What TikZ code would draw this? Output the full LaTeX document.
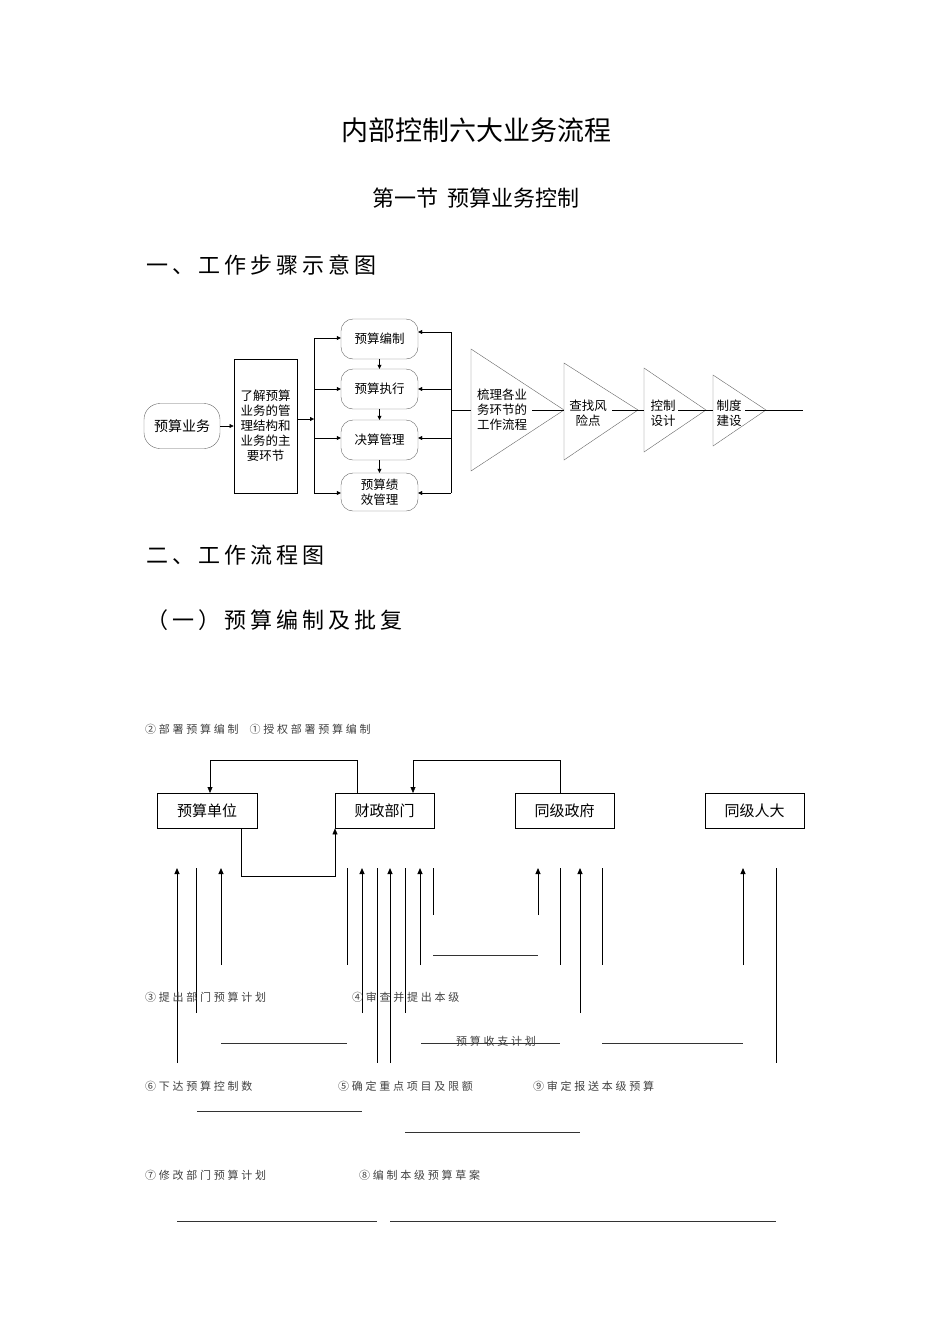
\documentclass[tikz,border=0pt]{standalone}
\usepackage{fontspec}
\setmainfont{Noto Sans CJK SC}
\newfontfamily\spc[LetterSpace=18]{Noto Sans CJK SC}
\newfontfamily\spcs[LetterSpace=25]{Noto Sans CJK SC}
\usetikzlibrary{arrows.meta,shapes.geometric}
\begin{document}
\begin{tikzpicture}[x=1pt,y=-1pt,
  ar/.style={-{Triangle[length=6pt,width=5pt]}},
  sar/.style={-{Triangle[length=4pt,width=4pt]}},
  rbox/.style={draw=black!60,rounded corners=12pt,align=center,font=\fontsize{12.5}{15}\selectfont,inner sep=1pt},
  tri/.style={draw=black!60,fill=white},
  lab/.style={font=\spcs\fontsize{11}{13}\selectfont,text=black!75,anchor=west,inner sep=0},
  bx/.style={draw,font=\fontsize{15}{17}\selectfont,inner sep=0},
  vl/.style={line width=0.9pt},
  hl/.style={line width=1pt,black!80},
  hd/.style={font=\spc\fontsize{22}{26}\selectfont,anchor=west}]
\useasboundingbox (0,0) rectangle (950,1344);
\node[font=\fontsize{27}{30}\selectfont] (t1) at (476,130) {内部控制六大业务流程};
\node[font=\fontsize{22}{26}\selectfont] (t2) at (476,198) {第一节\hspace{0.4em}预算业务控制};
\node[hd] (t3) at (143,265) {一、工作步骤示意图};
\node[hd] (t4) at (143,555) {二、工作流程图};
\node[hd] (t5) at (143,620) {（一）预算编制及批复};
% ---- step diagram
\node[rbox,minimum width=76pt,minimum height=45pt,font=\fontsize{14}{16}\selectfont,rounded corners=16pt] (ys) at (182,426) {预算业务};
\node[draw,line width=0.9pt,minimum width=63pt,minimum height=134pt,align=center,font=\fontsize{12.5}{15}\selectfont,inner sep=0pt] (lj) at (265.5,426) {了解预算\\业务的管\\理结构和\\业务的主\\要环节};
\node[rbox,minimum width=77pt,minimum height=40pt] (b1) at (379.5,339) {预算编制};
\node[rbox,minimum width=77pt,minimum height=40pt] (b2) at (379.5,389) {预算执行};
\node[rbox,minimum width=77pt,minimum height=40pt] (b3) at (379.5,440) {决算管理};
\node[rbox,minimum width=77pt,minimum height=38pt,font=\fontsize{12.5}{14.5}\selectfont] (b4) at (379.5,492) {预算绩\\效管理};
\draw[sar] (ys.east) -- (lj.west|-ys.east);
\coordinate (bl) at (314,419);
\draw[sar] (lj.east|-bl) -- (bl);
\draw (314,338) -- (314,493);
\foreach \b/\y in {b1/338,b2/389,b3/438,b4/493} \draw[sar] (314,\y) -- (\b.west|-0,\y);
\draw (451,332) -- (451,493);
\foreach \b/\y in {b1/332,b2/389,b3/438,b4/493} \draw[sar] (451,\y) -- (\b.east|-0,\y);
\draw[sar] (b1.south) -- (b2.north);
\draw[sar] (b2.south) -- (b3.north);
\draw[sar] (b3.south) -- (b4.north);
\draw (451,410) -- (471,410);
\draw[tri] (471,349) -- (564,410) -- (471,471) -- cycle;
\draw[tri] (564,363) -- (638,410) -- (564,460) -- cycle;
\draw[tri] (644,368) -- (706,410) -- (644,452) -- cycle;
\draw[tri] (713,375) -- (766,410) -- (713,446) -- cycle;
\draw (532,410) -- (564,410) (612,410)--(644,410) (678,410)--(713,410) (745,410)--(803,410);
\node[align=center,font=\fontsize{12.5}{15}\selectfont,inner sep=0] (s1) at (502,410) {梳理各业\\务环节的\\工作流程};
\node[align=center,font=\fontsize{12.5}{15}\selectfont,inner sep=0] (s2) at (588,413) {查找风\\险点};
\node[align=center,font=\fontsize{12.5}{15}\selectfont,inner sep=0] (s3) at (663,413) {控制\\设计};
\node[align=center,font=\fontsize{12.5}{15}\selectfont,inner sep=0] (s4) at (729,413) {制度\\建设};
% ---- flow chart
\node[lab] (l12) at (145,729) {②部署预算编制\hspace{1em}①授权部署预算编制};
\node[bx,minimum width=100pt,minimum height=35pt,anchor=north west] (ydw) at (157,793) {预算单位};
\node[bx,minimum width=99pt,minimum height=35pt,anchor=north west] (czb) at (335,793) {财政部门};
\node[bx,minimum width=99pt,minimum height=35pt,anchor=north west] (tzf) at (515,793) {同级政府};
\node[bx,minimum width=99pt,minimum height=35pt,anchor=north west] (trd) at (705,793) {同级人大};
\coordinate (c1) at (357,760); \coordinate (c2) at (210,760);
\draw[ar] (czb.north-|c1) -- (c1) -- (c2) -- (ydw.north-|c2);
\coordinate (c3) at (560,760); \coordinate (c4) at (413,760);
\draw[ar] (tzf.north-|c3) -- (c3) -- (c4) -- (czb.north-|c4);
\coordinate (c5) at (241,876);
\draw[ar] (ydw.south-|c5) -- (c5) -- (czb.south west|-c5) -- (czb.south west);
% vertical arrows and lines
\foreach \x/\yb in {177/1063,221/965,362/1013,390/1063,420/965,538/915,580/1013,743/965}
  \draw[vl,ar] (\x,\yb) -- (\x,868);
\foreach \x/\yb in {196/1013,347/965,377/1063,405/1013,433/915,560/965,602/965,776/1063}
  \draw[vl] (\x,868) -- (\x,\yb);
\draw[hl] (433,955) -- (538,955);
\draw[hl] (221,1043) -- (347,1043);
\draw[hl] (421,1043) -- (560,1043);
\draw[hl] (602,1043) -- (743,1043);
\draw[hl] (197,1111) -- (362,1111);
\draw[hl] (405,1132) -- (580,1132);
\draw[hl] (177,1221) -- (377,1221);
\draw[hl] (390,1221) -- (776,1221);
\node[lab] (l3) at (145,997) {③提出部门预算计划};
\node[lab] (l4) at (352,997) {④审查并提出本级};
\node[font=\spcs\fontsize{11}{13}\selectfont,text=black!75,inner sep=0] (lsz) at (496,1041) {预算收支计划};
\node[lab] (l6) at (145,1086) {⑥下达预算控制数};
\node[lab] (l5) at (338,1086) {⑤确定重点项目及限额};
\node[lab] (l9) at (533,1086) {⑨审定报送本级预算};
\node[lab] (l7) at (145,1175) {⑦修改部门预算计划};
\node[lab] (l8) at (359,1175) {⑧编制本级预算草案};
\end{tikzpicture}
\end{document}
